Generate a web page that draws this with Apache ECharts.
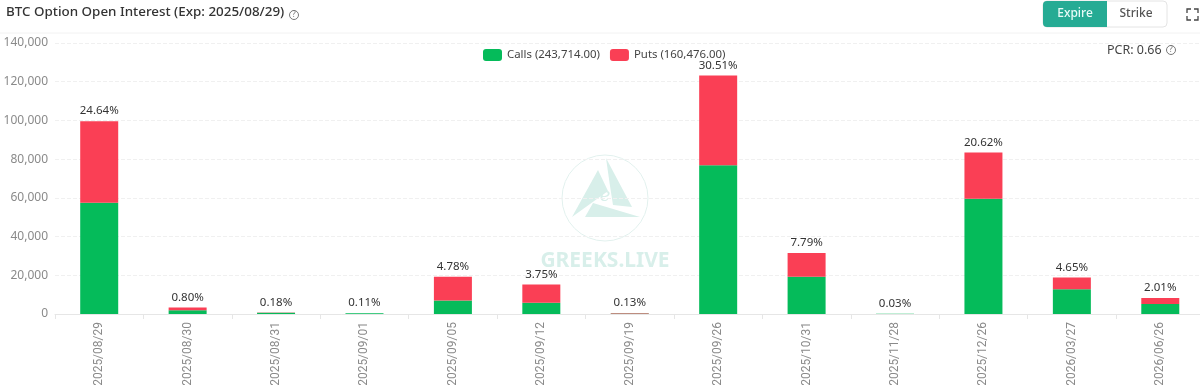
<!DOCTYPE html>
<html><head><meta charset="utf-8">
<style>html,body{margin:0;padding:0;background:#fff;overflow:hidden}#c{width:1200px;height:385px}</style>
<script src="https://cdn.jsdelivr.net/npm/echarts@6/dist/echarts.min.js"></script></head>
<body><div id="c"></div>
<script>
const categories=['2025/08/29','2025/08/30','2025/08/31','2025/09/01','2025/09/05','2025/09/12','2025/09/19','2025/09/26','2025/10/31','2025/11/28','2025/12/26','2026/03/27','2026/06/26'];
const calls=[57500,2000,700,350,7000,5800,250,76800,19200,90,59500,12800,5200];
const puts=[42100,1300,100,100,12300,9400,300,46400,12300,50,23900,6000,3100];
const shares=['24.64%','0.80%','0.18%','0.11%','4.78%','3.75%','0.13%','30.51%','7.79%','0.03%','20.62%','4.65%','2.01%'];
const yTicks={min:0,max:140000,interval:20000};
const F='"Noto Sans",sans-serif';
const chart=echarts.init(document.getElementById('c'),null,{renderer:'canvas'});
const wm='#d8efea';
chart.setOption({
 animation:false,
 textStyle:{fontFamily:F},
 grid:{left:55,top:43,width:1149.5,height:271,containLabel:false,outerBoundsMode:'none'},
 legend:{top:44,left:478,itemWidth:19,itemHeight:12,itemGap:10,icon:'roundRect',
  textStyle:{fontSize:11.4,color:'#444',fontFamily:F},
  data:['Calls (243,714.00)','Puts (160,476.00)']},
 xAxis:{type:'category',data:categories,
  axisLine:{lineStyle:{color:'#e6e6e6'}},axisTick:{show:true,length:5,lineStyle:{color:'#e6e6e6'}},
  axisLabel:{rotate:90,fontSize:12,color:'#8a8a8a',margin:8,fontFamily:'Roboto,sans-serif'}},
 yAxis:{type:'value',min:yTicks.min,max:yTicks.max,interval:yTicks.interval,
  axisLine:{show:false},axisTick:{show:false},
  axisLabel:{fontSize:12,color:'#8a8a8a',margin:7,fontFamily:F,formatter:v=>v.toLocaleString('en-US')},
  splitLine:{lineStyle:{color:'#f0f0f0',type:'dashed'}}},
 series:[
  {name:'Calls (243,714.00)',type:'bar',stack:'a',data:calls,barWidth:38,itemStyle:{color:'#05bb5a'}},
  {name:'Puts (160,476.00)',type:'bar',stack:'a',data:puts,barWidth:38,itemStyle:{color:'#fa3f55'},
   label:{show:true,position:'top',distance:4,fontSize:11.5,color:'#333',fontFamily:F,formatter:p=>shares[p.dataIndex]}}
 ],
 graphic:[
  {type:'text',left:6,top:6,style:{text:'BTC Option Open Interest (Exp: 2025/08/29)',font:'500 13.4px '+F,fill:'#333'}},
  {type:'circle',shape:{cx:294,cy:15,r:4.5},style:{fill:'none',stroke:'#777',lineWidth:1}},
  {type:'text',x:294,y:15,style:{text:'?',font:'8px '+F,fill:'#777',align:'center',verticalAlign:'middle'}},
  {type:'line',shape:{x1:0,y1:33,x2:1200,y2:33},style:{stroke:'#f2f2f2',lineWidth:1}},
  {type:'rect',shape:{x:1043,y:1,width:124,height:26,r:4},style:{fill:'#fff',stroke:'#e4e4e4',lineWidth:1}},
  {type:'rect',shape:{x:1043,y:1,width:64,height:26,r:[4,0,0,4]},style:{fill:'#26ab94'}},
  {type:'text',x:1075,y:14,style:{text:'Expire',font:'500 12px '+F,fill:'#e8fbf7',align:'center',verticalAlign:'middle'}},
  {type:'text',x:1136,y:14,style:{text:'Strike',font:'500 12px '+F,fill:'#555',align:'center',verticalAlign:'middle'}},
  {type:'polyline',shape:{points:[[1187,13],[1187,9],[1191,9]]},style:{fill:'none',stroke:'#444',lineWidth:1.3}},
  {type:'polyline',shape:{points:[[1194,9],[1198,9],[1198,13]]},style:{fill:'none',stroke:'#444',lineWidth:1.3}},
  {type:'polyline',shape:{points:[[1187,16],[1187,20],[1191,20]]},style:{fill:'none',stroke:'#444',lineWidth:1.3}},
  {type:'polyline',shape:{points:[[1194,20],[1198,20],[1198,16]]},style:{fill:'none',stroke:'#444',lineWidth:1.3}},
  {type:'text',x:1107,y:50,style:{text:'PCR: 0.66',font:'12.5px '+F,fill:'#444',verticalAlign:'middle'}},
  {type:'circle',shape:{cx:1171,cy:50,r:4.5},style:{fill:'none',stroke:'#777',lineWidth:1}},
  {type:'text',x:1171,y:50,style:{text:'?',font:'8px '+F,fill:'#777',align:'center',verticalAlign:'middle'}},
  {type:'group',silent:true,z:-1,children:[
   {type:'circle',shape:{cx:605,cy:198,r:43},style:{fill:'none',stroke:'#e2f1ee',lineWidth:1}},
   {type:'polygon',shape:{points:[[572,217],[598,170],[608,191]]},style:{fill:wm}},
   {type:'polygon',shape:{points:[[606,158],[632,207],[613,205],[610,186]]},style:{fill:wm}},
   {type:'polygon',shape:{points:[[585,217],[593,203],[640,217]]},style:{fill:wm}},
   {type:'text',x:605,y:196,style:{text:'e',font:'italic 18px "DejaVu Serif"',fill:wm,align:'center',verticalAlign:'middle'}},
   {type:'text',x:605,y:261,style:{text:'GREEKS.LIVE',font:'bold 21px '+F,fill:wm,align:'center',verticalAlign:'middle'}}
  ]}
 ]
});
</script></body></html>
